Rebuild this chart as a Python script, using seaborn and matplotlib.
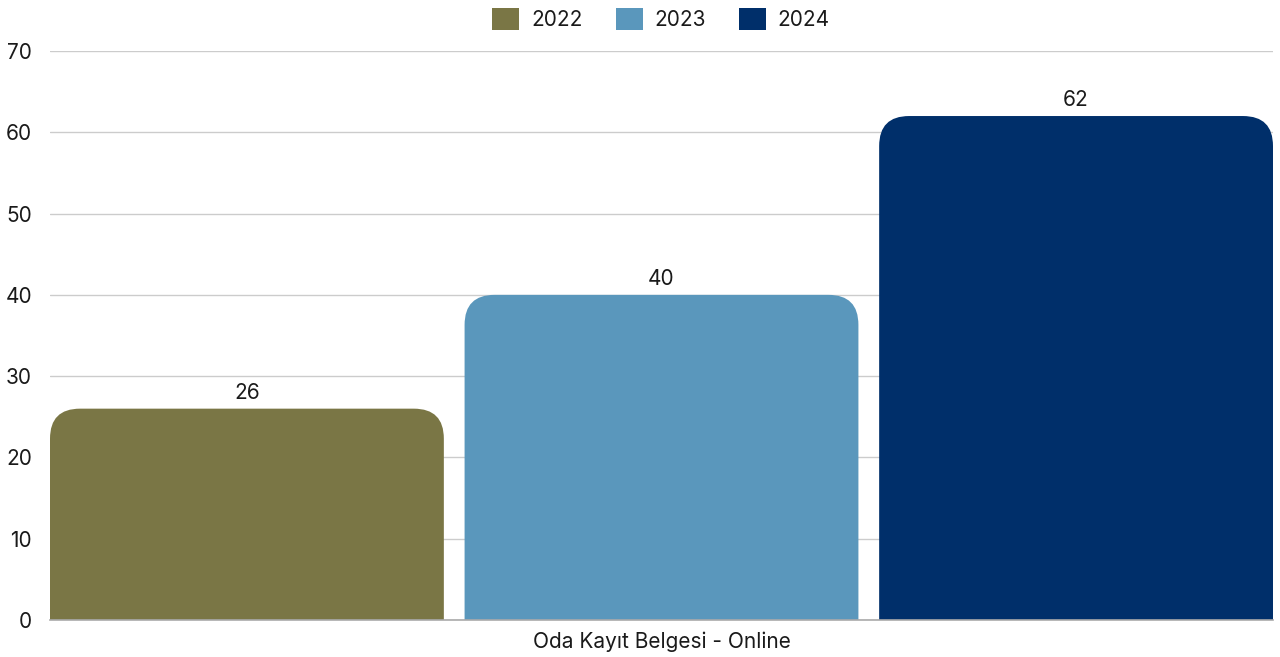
import numpy as np
import pandas as pd
import matplotlib
matplotlib.use('Agg')
import matplotlib.pyplot as plt
import seaborn as sns
from matplotlib.patches import FancyBboxPatch, Patch

category = ['Oda Kayıt Belgesi - Online']
years = ['2022', '2023', '2024']
values = [26, 40, 62]
colors = ['#7a7645', '#5a97bc', '#002f6a']

df = pd.DataFrame({'kategori': category * len(years), 'yil': years, 'deger': values})

sns.set_theme(style='white')
plt.rcParams['font.family'] = ['Inter', 'DejaVu Sans']
FS = 15

W, H = 1280, 657
fig = plt.figure(figsize=(W / 100, H / 100), dpi=100)
ax = fig.add_axes([50 / W, (H - 620) / H, (1273 - 50) / W, (620 - 51) / H])

sns.barplot(data=df, x='kategori', y='deger', hue='yil', palette=colors,
            width=1.0, gap=0.05, ax=ax, legend=False, saturation=1)

ax.set_ylim(0, 70)
ax.set_yticks(range(0, 71, 10))
bars = [p for p in ax.patches]
x0 = min(p.get_x() for p in bars)
x1 = max(p.get_x() + p.get_width() for p in bars)
ax.set_xlim(x0, x1)

# piksel / veri birimi
px_x = (1273 - 50) / (x1 - x0)
px_y = (620 - 51) / 70.0
r_px = 30
r = r_px / px_x
aspect = px_x / px_y

for p in bars:
    bx, bw, bh = p.get_x(), p.get_width(), p.get_height()
    fc = p.get_facecolor()
    p.remove()
    ext = r_px / px_y
    fb = FancyBboxPatch((bx, -ext), bw, bh + ext,
                        boxstyle=f'round,pad=0,rounding_size={r}',
                        mutation_aspect=aspect, facecolor=fc,
                        edgecolor='none', zorder=2, clip_on=True)
    ax.add_patch(fb)
    ax.text(bx + bw / 2, bh + 16 / px_y, f'{bh:.0f}', ha='center', va='center',
            fontsize=FS, color='#1a1a1a', zorder=3)

ax.grid(axis='y', color='#cccccc', linewidth=1)
ax.set_axisbelow(True)
for s in ['left', 'right', 'top']:
    ax.spines[s].set_visible(False)
ax.spines['bottom'].set_color('#aaaaaa')
ax.spines['bottom'].set_linewidth(1.2)
ax.tick_params(axis='y', length=0, pad=13, labelsize=FS, labelcolor='#1a1a1a')
ax.tick_params(axis='x', length=0, pad=8, labelsize=FS, labelcolor='#1a1a1a')
ax.set_xticks([(x0 + x1) / 2])
ax.set_xticklabels(category)
ax.set_xlabel('')
ax.set_ylabel('')

handles = [Patch(facecolor=c, edgecolor='none') for c in colors]
fig.legend(handles, years, loc='center', bbox_to_anchor=(661 / W, 1 - 19 / H), ncol=3,
           frameon=False, fontsize=FS, handlelength=1.3, handleheight=1.3,
           handletextpad=0.55, columnspacing=1.6, labelcolor='#1a1a1a')

fig.savefig('out.png', dpi=100, facecolor='white')
